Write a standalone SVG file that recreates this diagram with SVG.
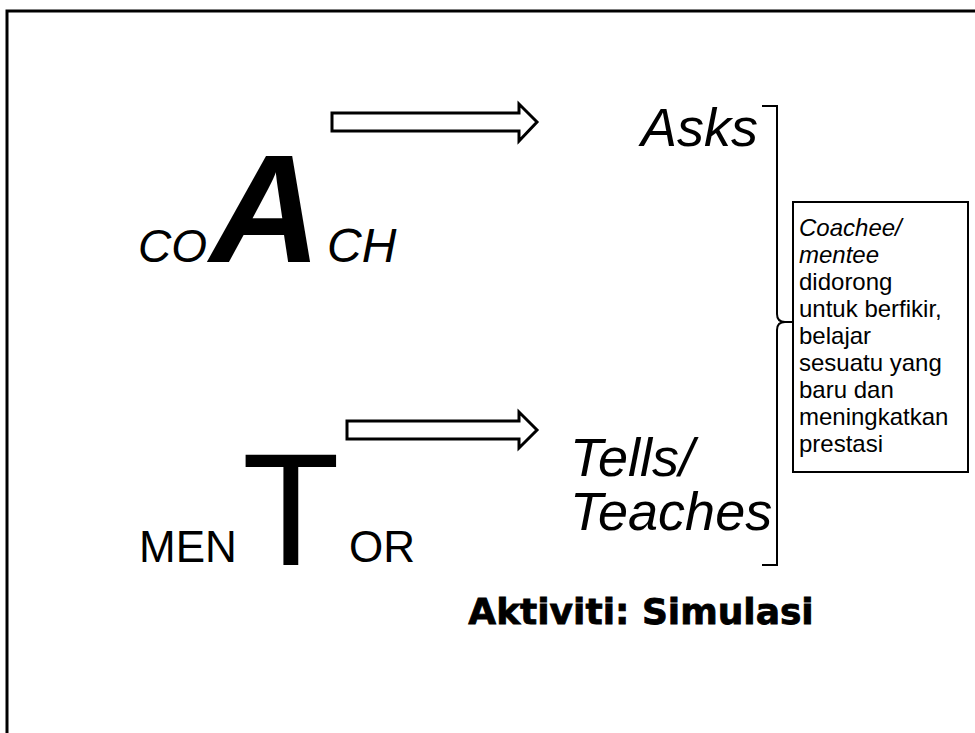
<svg xmlns="http://www.w3.org/2000/svg" width="975" height="733" viewBox="0 0 975 733">
<style>
.sans{font-family:"Liberation Sans",Arial,sans-serif;fill:#000}
.it{font-style:italic}
.big{font-size:48px}
.lbl{font-size:54px}
.note{font-size:24px}
.arrow{fill:#fff;stroke:#000;stroke-width:3;stroke-linejoin:miter}
.line{fill:none;stroke:#000;stroke-width:2}
</style>
<rect width="975" height="733" fill="#fff"/>
<g id="frame">
<path d="M7,733 L7,11 L975,11" fill="none" stroke="#000" stroke-width="3"/>
</g>
<g id="coach">
<text class="sans it" x="138" y="262" font-size="46">CO</text>
<text class="sans it" x="210" y="262" font-size="154" font-weight="bold">A</text>
<text class="sans it big" x="327" y="262">CH</text>
</g>
<g id="mentor">
<text class="sans" x="139" y="562" font-size="44">MEN</text>
<text class="sans" x="242" y="565" font-size="160">T</text>
<text class="sans" x="349" y="562" font-size="44">OR</text>
</g>
<g id="asks">
<text class="sans it lbl" x="758" y="146" text-anchor="end">Asks</text>
</g>
<g id="tells">
<text class="sans it lbl" x="570" y="476">Tells/</text>
<text class="sans it lbl" x="570" y="530">Teaches</text>
</g>
<g id="note">
<rect x="793" y="202" width="175" height="270" fill="#fff" stroke="#000" stroke-width="2"/>
<text class="sans note">
<tspan class="it" x="799" y="236">Coachee/</tspan>
<tspan class="it" x="799" y="263">mentee</tspan>
<tspan x="799" y="290">didorong</tspan>
<tspan x="799" y="317">untuk  berfikir,</tspan>
<tspan x="799" y="344">belajar</tspan>
<tspan x="799" y="371">sesuatu yang</tspan>
<tspan x="799" y="398">baru dan</tspan>
<tspan x="799" y="425">meningkatkan</tspan>
<tspan x="799" y="452">prestasi</tspan>
</text>
</g>
<g id="title">
<text x="641" y="624" text-anchor="middle" font-family="'DejaVu Sans',sans-serif" font-weight="bold" font-size="36" stroke="#000" stroke-width="0.8">Aktiviti: Simulasi</text>
</g>
<g id="connectors">
<path class="arrow" d="M332,113 L519,113 L519,104 L537,122 L519,141 L519,131 L332,131 Z"/>
<path class="arrow" d="M347,421 L519,421 L519,412 L537,430 L519,448 L519,439 L347,439 Z"/>
<path class="line" d="M762,106 L777,106 L777,314 Q777,322 785,322 L792,322 M785,322 Q777,322 777,330 L777,565 L762,565"/>
</g>
</svg>
